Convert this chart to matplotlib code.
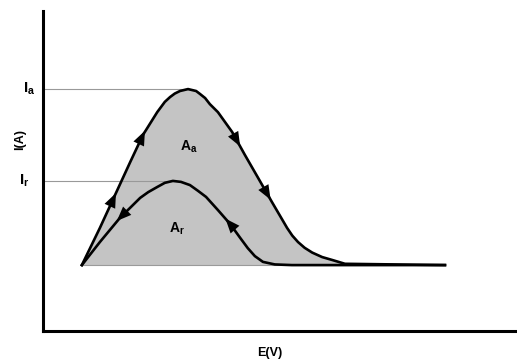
import numpy as np
import matplotlib
matplotlib.use("Agg")
import matplotlib.pyplot as plt

plt.rcParams['font.family'] = ['Liberation Sans', 'DejaVu Sans']
plt.rcParams['mathtext.fontset'] = 'custom'
plt.rcParams['mathtext.rm'] = 'Liberation Sans'
plt.rcParams['mathtext.bf'] = 'Liberation Sans:bold'
plt.rcParams['mathtext.it'] = 'Liberation Sans:italic'

# forward (anodic) sweep, traced shape of the stripping peak
E_fwd = [0.82, 1.20, 1.52, 1.84, 2.11, 2.41, 2.57, 2.68, 2.78, 2.89, 3.06, 3.23,
         3.31, 3.42, 3.52, 3.69, 3.99, 4.26, 4.54, 4.83, 5.02, 5.15, 5.26, 5.38,
         5.52, 5.68, 5.89, 6.10, 6.37, 8.48]
I_fwd = [2.06, 3.22, 4.25, 5.28, 6.13, 6.84, 7.16, 7.31, 7.42, 7.50, 7.56, 7.50,
         7.41, 7.28, 7.09, 6.84, 6.22, 5.50, 4.78, 4.03, 3.55, 3.22, 2.98, 2.78,
         2.60, 2.45, 2.31, 2.22, 2.10, 2.06]

# return sweep
E_rev = [0.82, 1.20, 1.62, 2.05, 2.22, 2.41, 2.57, 2.74, 2.91, 3.10, 3.27, 3.44,
         3.69, 3.95, 4.16, 4.32, 4.47, 4.64, 4.89, 5.25, 8.48]
I_rev = [2.06, 2.78, 3.53, 4.16, 4.34, 4.50, 4.63, 4.69, 4.66, 4.56, 4.38, 4.19,
         3.78, 3.34, 2.91, 2.59, 2.34, 2.16, 2.08, 2.06, 2.06]

I_base = 2.06


def arrow_on(ax, xs, ys, x_at, forward=True):
    xs = np.asarray(xs)
    ys = np.asarray(ys)
    i = np.searchsorted(xs, x_at) - 1
    dx = xs[i + 1] - xs[i]
    dy = ys[i + 1] - ys[i]
    y_at = ys[i] + (x_at - xs[i]) / dx * dy
    s = 0.2 / np.hypot(dx, dy)
    if forward:
        tip = (x_at + dx * s, y_at + dy * s)
        tail = (x_at - dx * s, y_at - dy * s)
    else:
        tip = (x_at - dx * s, y_at - dy * s)
        tail = (x_at + dx * s, y_at + dy * s)
    ax.annotate('', xy=tip, xytext=tail,
                arrowprops=dict(arrowstyle='-|>,head_length=0.75,head_width=0.3',
                                mutation_scale=14, fc='k', ec='k', lw=0,
                                shrinkA=0, shrinkB=0))


fig = plt.figure(figsize=(5.17, 3.59), dpi=100)
ax = fig.add_axes([43 / 517, 28 / 359, 474 / 517, 320 / 359])
ax.set_xlim(0, 10)
ax.set_ylim(0, 10)

ax.fill_between(E_fwd, I_fwd, I_base, color='#c4c4c4', lw=0, zorder=1)
ax.plot([E_fwd[0], E_fwd[-1]], [I_base, I_base], color='#9a9a9a', lw=0.8, zorder=2)

# peak current guide lines
Ia = max(I_fwd)
Ir = max(I_rev)
ax.plot([0, E_fwd[int(np.argmax(I_fwd))]], [Ia, Ia], color='#999999', lw=0.8, zorder=2)
ax.plot([0, E_rev[int(np.argmax(I_rev))]], [Ir, Ir], color='#999999', lw=0.8, zorder=2)

ax.plot(E_fwd, I_fwd, color='k', lw=1.9, solid_joinstyle='round', zorder=3)
ax.plot(E_rev, I_rev, color='k', lw=1.9, solid_joinstyle='round', zorder=3)

for x in (1.48, 2.09, 4.09, 4.73):
    arrow_on(ax, E_fwd, I_fwd, x, forward=True)
for x in (1.67, 3.95):
    arrow_on(ax, E_rev, I_rev, x, forward=False)

ax.text(3.08, 5.75, r'$\mathbf{A_a}$', fontsize=10, ha='center', va='center', zorder=4)
ax.text(2.83, 3.19, r'$\mathbf{A_r}$', fontsize=10, ha='center', va='center', zorder=4)

yt = ax.get_yaxis_transform()
ax.text(-0.03, Ia, r'$\mathbf{I_a}$', fontsize=11, ha='center', va='center', transform=yt)
ax.text(-0.04, Ir, r'$\mathbf{I_r}$', fontsize=11, ha='center', va='center', transform=yt)

ax.text(-0.049, 0.597, 'I(A)', fontsize=9, fontweight='bold', rotation=90,
        ha='center', va='center', transform=ax.transAxes)
ax.text(0.479, -0.069, 'E(V)', fontsize=9, fontweight='bold',
        ha='center', va='center', transform=ax.transAxes)

for side in ('top', 'right'):
    ax.spines[side].set_visible(False)
for side in ('left', 'bottom'):
    ax.spines[side].set_linewidth(2.2)
    ax.spines[side].set_color('k')
ax.set_xticks([])
ax.set_yticks([])

fig.savefig('out.png', dpi=100)
